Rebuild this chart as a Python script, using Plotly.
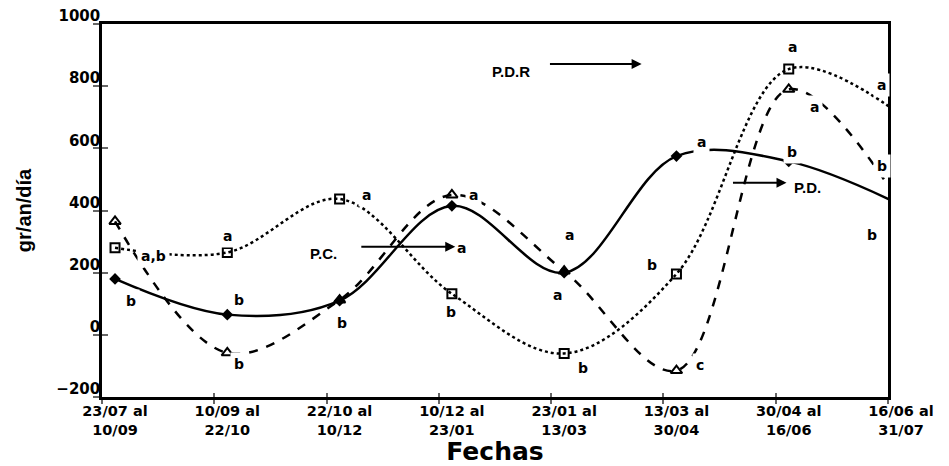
import plotly.graph_objects as go

# ---------------- data ----------------
categorias = ["23/07 al<br>10/09", "10/09 al<br>22/10", "22/10 al<br>10/12",
              "10/12 al<br>23/01", "23/01 al<br>13/03", "13/03 al<br>30/04",
              "30/04 al<br>16/06", "16/06 al<br>31/07"]
serie_rombo = [180, 65, 110, 415, 200, 575, 558, 418]
serie_triangulo = [365, -58, 112, 450, 205, -115, 790, 418]
serie_cuadrado = [280, 265, 437, 132, -60, 196, 855, 707]
y_ticks = [-200, 0, 200, 400, 600, 800, 1000]

# significance letters: text, x (category index), y value
letras_texto = ["a,b", "b", "a", "b", "b", "a", "b", "a", "a", "b", "a", "a",
                "b", "b", "c", "a", "a", "a", "a", "b", "b", "b"]
letras_x = [0.34, 0.14, 1.0, 1.10, 1.10, 2.24, 2.02, 3.19, 3.09, 2.99, 4.05, 3.94,
            4.17, 4.78, 5.21, 5.22, 6.03, 6.83, 6.23, 6.03, 6.83, 6.74]
letras_y = [254, 109, 318, 112, -93, 450, 39, 450, 280, 74, 321, 129,
            -106, 225, -96, 621, 926, 804, 733, 588, 543, 321]

# period labels with arrows: text, text x, text y, arrow tail x, arrow tip x, arrow y
periodos_texto = ["P.C.", "P.D.R", "P.D."]
periodos_x = [1.86, 3.53, 6.17]
periodos_y = [261, 846, 473]
flecha_desde = [2.18, 3.86, 5.49]
flecha_hasta = [3.03, 4.69, 5.98]
flecha_y = [283, 871, 489]

x_idx = list(range(len(categorias)))
desfase = 0.116  # tick marks sit slightly left of the category centres

fig = go.Figure()

fig.add_trace(go.Scatter(
    x=x_idx, y=serie_rombo, mode="lines+markers",
    line=dict(color="black", width=2.5, shape="spline", smoothing=1.0),
    marker=dict(symbol="diamond", size=9, color="black"),
    showlegend=False, hoverinfo="skip"))
fig.add_trace(go.Scatter(
    x=x_idx, y=serie_triangulo, mode="lines+markers",
    line=dict(color="black", width=2.5, dash="dash", shape="spline", smoothing=1.0),
    marker=dict(symbol="triangle-up-open", size=10, color="black", line=dict(width=2)),
    showlegend=False, hoverinfo="skip"))
fig.add_trace(go.Scatter(
    x=x_idx, y=serie_cuadrado, mode="lines+markers",
    line=dict(color="black", width=2.5, dash="dot", shape="spline", smoothing=1.0),
    marker=dict(symbol="square-open", size=9, color="black", line=dict(width=2)),
    showlegend=False, hoverinfo="skip"))
# dummy trace to activate the overlay axes (cross-ticks)
fig.add_trace(go.Scatter(x=[None], y=[None], xaxis="x2", yaxis="y2",
                         showlegend=False, hoverinfo="skip"))

tick_pos = [i - desfase for i in x_idx]
xr = [-desfase, len(categorias) - 1 - desfase]

annotations = []
for t, xx, yy in zip(letras_texto, letras_x, letras_y):
    annotations.append(dict(x=xx, y=yy, xref="x", yref="y", text=t, showarrow=False,
                            font=dict(family="DejaVu Sans", size=14, color="black", weight="bold"),
                            bgcolor="white", borderpad=3))
for t, tx, ty, a0, a1, ay in zip(periodos_texto, periodos_x, periodos_y,
                                 flecha_desde, flecha_hasta, flecha_y):
    annotations.append(dict(x=tx, y=ty, xref="x", yref="y", text=t, showarrow=False,
                            font=dict(family="Liberation Sans", size=15, color="black", weight="bold")))
    annotations.append(dict(x=a1, y=ay, ax=a0, ay=ay, xref="x", yref="y",
                            axref="x", ayref="y", text="", showarrow=True,
                            arrowhead=2, arrowsize=1, arrowwidth=2, arrowcolor="black"))

# the page body adds an 8px margin, so the figure is 8px smaller on each axis
fig.update_layout(
    width=941, height=458,
    margin=dict(l=94, r=61, t=16, b=69, autoexpand=False),
    plot_bgcolor="white", paper_bgcolor="white",
    showlegend=False,
    xaxis=dict(range=xr, tickmode="array", tickvals=tick_pos, ticktext=categorias,
               ticklabelshift=13, ticklabelstandoff=-5,
               ticks="outside", ticklen=4, tickwidth=1.5, tickcolor="#666",
               showline=True, linecolor="black", linewidth=2.5, mirror=True,
               showgrid=False, zeroline=False, automargin=False, ticklabeloverflow="allow",
               tickfont=dict(family="DejaVu Sans", size=14.5, color="black", weight="bold"),
               title=dict(text="Fechas", standoff=12,
                          font=dict(family="DejaVu Sans", size=25, color="black", weight="bold"))),
    yaxis=dict(range=[-200, 1000], tickmode="array", tickvals=y_ticks,
               ticklabelshift=-8, ticklabelstandoff=-10, ticklabeloverflow="allow",
               ticks="outside", ticklen=6, tickwidth=1.5, tickcolor="#666",
               showline=True, linecolor="black", linewidth=2.5, mirror=True,
               showgrid=False, zeroline=False, automargin=False,
               tickfont=dict(family="DejaVu Sans", size=15, color="black", weight="bold"),
               title=dict(text="gr/an/día", standoff=20,
                          font=dict(family="Liberation Sans", size=20, color="black", weight="bold"))),
    xaxis2=dict(overlaying="x", matches="x", anchor="y", side="bottom",
                tickmode="array", tickvals=tick_pos, showticklabels=False,
                ticks="inside", ticklen=4, tickwidth=1.5, tickcolor="#666",
                showline=False, showgrid=False, zeroline=False),
    yaxis2=dict(overlaying="y", matches="y", anchor="x", side="left",
                tickmode="array", tickvals=y_ticks, showticklabels=False,
                ticks="inside", ticklen=6, tickwidth=1.5, tickcolor="#666",
                showline=False, showgrid=False, zeroline=False),
    annotations=annotations,
)

fig.write_html("out.html")
